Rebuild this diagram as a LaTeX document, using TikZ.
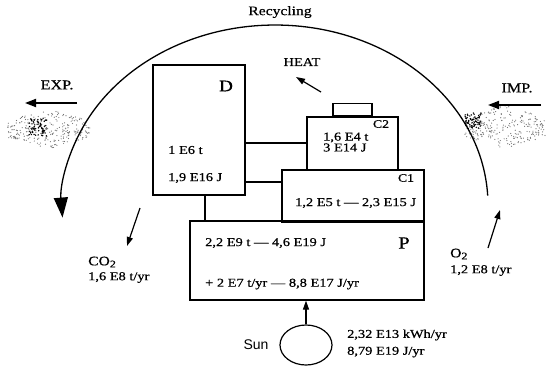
\documentclass[tikz,border=0pt]{standalone}
\usepackage{fontspec}
\setmainfont[FakeStretch=1.2,FakeBold=0.6]{Liberation Serif}
\newfontfamily\sunfont{Liberation Sans}
\usetikzlibrary{arrows.meta,shapes.geometric}
\tikzset{
  boxline/.style={draw, line width=1.2pt},
  link/.style={draw, line width=1.1pt},
  flow/.style={line width=1.2pt, -{Triangle[length=9pt,width=6pt]}},
  bigflow/.style={line width=1.8pt, -{Triangle[length=11pt,width=8pt]}},
  lbl/.style={inner sep=0pt, font=\fontsize{12}{13}\selectfont},
  biglbl/.style={inner sep=0pt, font=\fontsize{16}{17}\selectfont},
  smalllbl/.style={inner sep=0pt, font=\fontsize{11.5}{12}\selectfont},
}
\newcommand{\subtwo}{\raisebox{-2pt}{\fontsize{10}{10}\selectfont 2}}
\begin{document}
\begin{tikzpicture}[x=1pt,y=-1pt]
\useasboundingbox (0,0) rectangle (547,368);
% clouds
\pgfmathsetseed{7}
\foreach \i in {1,...,260}{
  \pgfmathsetmacro{\dx}{42*rand}
  \pgfmathsetmacro{\dy}{20*rand*(1-abs(\dx)/70)}
  \fill[black!55] (48+\dx,129+\dy) circle[radius=0.6];
}
\foreach \i in {1,...,70}{
  \pgfmathsetmacro{\dx}{9*rand}
  \pgfmathsetmacro{\dy}{9*rand}
  \fill[black] (38+\dx,127+\dy) circle[radius=0.8];
}
\foreach \i in {1,...,260}{
  \pgfmathsetmacro{\dx}{40*rand}
  \pgfmathsetmacro{\dy}{22*rand*(1-abs(\dx)/70)}
  \fill[black!55] (505+\dx,127+\dy) circle[radius=0.6];
}
\foreach \i in {1,...,70}{
  \pgfmathsetmacro{\dx}{8*rand}
  \pgfmathsetmacro{\dy}{8*rand}
  \fill[black] (473+\dx,121+\dy) circle[radius=0.8];
}
% recycling arc
\coordinate (arcS) at (487.7,195.6);
\draw[line width=1.3pt, -{Triangle[length=20pt,width=14pt]}] (arcS) arc[start angle=-3, end angle=-184, x radius=213, y radius=180];
\node[inner sep=0pt, font=\fontsize{13}{14}\selectfont] (rec) at (280,12) {Recycling};
% boxes
\node[boxline, minimum width=92pt, minimum height=130pt, inner sep=0pt] (D) at (199,130) {};
\node[boxline, minimum width=91pt, minimum height=53pt, inner sep=0pt] (C2) at (352.5,143.5) {};
\node[boxline, minimum width=39pt, minimum height=12pt, inner sep=0pt, anchor=south] (tab) at (C2.north) {};
\node[boxline, minimum width=142pt, minimum height=52pt, inner sep=0pt] (C1) at (353,196) {};
\node[boxline, minimum width=234pt, minimum height=79pt, inner sep=0pt] (P) at (307,260.5) {};
% box labels
\node[biglbl] (Dl) at (226,86) {D};
\node[lbl, anchor=west] (Dt1) at (168,150) {1 E6 t};
\node[lbl, anchor=west] (Dt2) at (168,178) {1,9 E16 J};
\node[smalllbl] (C2l) at (381,124) {C2};
\node[lbl, anchor=west] (C2t1) at (323,137.5) {1,6 E4 t};
\node[lbl, anchor=west] (C2t2) at (323,147.5) {3 E14 J};
\node[smalllbl] (C1l) at (406,178) {C1};
\node[lbl, anchor=west] (C1t) at (295,203) {1,2 E5 t --- 2,3 E15 J};
\node[inner sep=0pt, font=\fontsize{17}{18}\selectfont] (Pl) at (404,243) {P};
\node[lbl, anchor=west] (Pt1) at (205,243) {2,2 E9 t --- 4,6 E19 J};
\node[lbl, anchor=west] (Pt2) at (205,284) {+ 2 E7 t/yr --- 8,8 E17 J/yr};
% links
\draw[link] (D.east |- 0,143) -- (C2.west |- 0,143);
\draw[link] (D.east |- 0,182) -- (C1.west |- 0,182);
\draw[link] (205,195) -- (205,221);
% sun
\node[draw, line width=1.2pt, ellipse, minimum width=52pt, minimum height=40pt, inner sep=0pt] (sun) at (306,345) {};
\node[inner sep=0pt, font=\sunfont\fontsize{14}{15}\selectfont] (sunl) at (256,345) {Sun};
\draw[flow] (sun.north) -- (sun.north |- P.south);
\node[lbl, anchor=west] (sunt1) at (347,335) {2,32 E13 kWh/yr};
\node[lbl, anchor=west] (sunt2) at (347,352) {8,79 E19 J/yr};
% heat
\node[inner sep=0pt, font=\fontsize{12}{12}\selectfont] (heat) at (302,62) {HEAT};
\coordinate (h1) at (321,92);
\coordinate (h2) at (296,77);
\draw[flow] (h1) -- (h2);
% exp / imp
\node[inner sep=0pt, font=\fontsize{13.5}{14}\selectfont] (exp) at (57,85) {EXP.};
\coordinate (e1) at (77,103);
\coordinate (e2) at (25,103);
\draw[bigflow] (e1) -- (e2);
\node[inner sep=0pt, font=\fontsize{13.5}{14}\selectfont] (imp) at (517,88) {IMP.};
\coordinate (i1) at (541,105);
\coordinate (i2) at (488,105);
\draw[bigflow] (i1) -- (i2);
% CO2
\coordinate (c1) at (140,208);
\coordinate (c2) at (127,246);
\draw[flow] (c1) -- (c2);
\node[inner sep=0pt, anchor=west, font=\fontsize{13}{14}\selectfont] (co2) at (88,262) {CO\subtwo};
\node[lbl, anchor=west] (co2t) at (88,277.5) {1,6 E8 t/yr};
% O2
\coordinate (o1) at (488,248);
\coordinate (o2) at (500,210);
\draw[flow] (o1) -- (o2);
\node[inner sep=0pt, anchor=west, font=\fontsize{13}{14}\selectfont] (o2l) at (450,254) {O\subtwo};
\node[lbl, anchor=west] (o2t) at (450,270.5) {1,2 E8 t/yr};
\end{tikzpicture}
\end{document}
